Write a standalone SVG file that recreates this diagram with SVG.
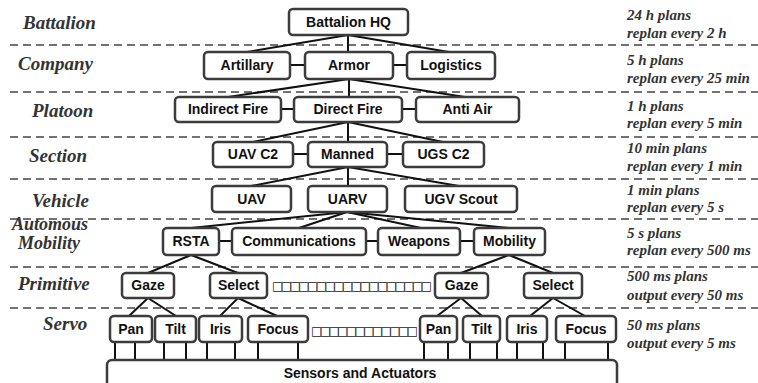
<svg xmlns="http://www.w3.org/2000/svg" width="758" height="383" viewBox="0 0 758 383">
<style>
.bg{fill:#fff}
.dash{stroke:#444;stroke-width:1.6;stroke-dasharray:8 5;fill:none}
.box rect{fill:#fff;stroke:#3c3c3c;stroke-width:2.5}
.box text{font-family:"Liberation Sans",Arial,sans-serif;font-weight:bold;font-size:14px;fill:#111;text-anchor:middle}
.conn line{stroke:#111;stroke-width:2}
.lvl{font-family:"Liberation Serif","Times New Roman",serif;font-weight:bold;font-style:italic;font-size:19px;fill:#333}
.rate{font-family:"Liberation Serif","Times New Roman",serif;font-weight:bold;font-style:italic;font-size:15px;fill:#333}
.dots{font-family:"DejaVu Sans",sans-serif;font-size:12px;fill:#222}
</style>
<rect class="bg" x="0" y="0" width="758" height="383"/>
<g id="dashes">
<line class="dash" x1="10" y1="45" x2="758" y2="45"/>
<line class="dash" x1="10" y1="92" x2="758" y2="92"/>
<line class="dash" x1="10" y1="137" x2="758" y2="137"/>
<line class="dash" x1="10" y1="179" x2="758" y2="179"/>
<line class="dash" x1="10" y1="219" x2="758" y2="219"/>
<line class="dash" x1="10" y1="267" x2="758" y2="267"/>
<line class="dash" x1="10" y1="308" x2="758" y2="308"/>
</g>
<g id="levels">
<text class="lvl" x="23" y="29">Battalion</text>
<text class="lvl" x="18" y="70">Company</text>
<text class="lvl" x="32" y="117">Platoon</text>
<text class="lvl" x="29" y="162">Section</text>
<text class="lvl" x="32" y="207">Vehicle</text>
<text class="lvl" x="12" y="230" style="font-size:18px">Automous</text>
<text class="lvl" x="18" y="249" style="font-size:18px">Mobility</text>
<text class="lvl" x="18" y="290">Primitive</text>
<text class="lvl" x="43" y="330">Servo</text>
</g>
<g id="rates">
<text class="rate" x="627" y="20">24 h plans</text>
<text class="rate" x="627" y="38">replan every 2 h</text>
<text class="rate" x="627" y="65">5 h plans</text>
<text class="rate" x="627" y="83">replan every 25 min</text>
<text class="rate" x="627" y="111">1 h plans</text>
<text class="rate" x="627" y="128">replan every 5 min</text>
<text class="rate" x="627" y="153">10 min plans</text>
<text class="rate" x="627" y="171">replan every 1 min</text>
<text class="rate" x="627" y="195">1 min plans</text>
<text class="rate" x="627" y="212">replan every 5 s</text>
<text class="rate" x="627" y="238">5 s plans</text>
<text class="rate" x="627" y="255">replan every 500 ms</text>
<text class="rate" x="627" y="281">500 ms plans</text>
<text class="rate" x="627" y="300">output every 50 ms</text>
<text class="rate" x="627" y="330">50 ms plans</text>
<text class="rate" x="627" y="348">output every 5 ms</text>
</g>
<g id="connectors" class="conn">
<line x1="348" y1="35" x2="247" y2="52"/>
<line x1="348" y1="35" x2="348" y2="52"/>
<line x1="348" y1="35" x2="449" y2="52"/>
<line x1="290" y1="65" x2="305" y2="65"/>
<line x1="393" y1="65" x2="407" y2="65"/>
<line x1="349" y1="79" x2="228" y2="97"/>
<line x1="349" y1="79" x2="349" y2="97"/>
<line x1="349" y1="79" x2="465" y2="97"/>
<line x1="281" y1="109" x2="294" y2="109"/>
<line x1="402" y1="109" x2="416" y2="109"/>
<line x1="348" y1="122" x2="253" y2="142"/>
<line x1="348" y1="122" x2="348" y2="142"/>
<line x1="348" y1="122" x2="443" y2="142"/>
<line x1="293" y1="154" x2="308" y2="154"/>
<line x1="387" y1="154" x2="403" y2="154"/>
<line x1="348" y1="167" x2="251" y2="186"/>
<line x1="348" y1="167" x2="348" y2="186"/>
<line x1="348" y1="167" x2="459" y2="186"/>
<line x1="347" y1="212" x2="191" y2="228"/>
<line x1="347" y1="212" x2="299" y2="228"/>
<line x1="347" y1="212" x2="421" y2="228"/>
<line x1="347" y1="212" x2="509" y2="228"/>
<line x1="219" y1="241" x2="232" y2="241"/>
<line x1="366" y1="241" x2="378" y2="241"/>
<line x1="460" y1="241" x2="474" y2="241"/>
<line x1="191" y1="255" x2="148" y2="273"/>
<line x1="191" y1="255" x2="238" y2="273"/>
<line x1="509" y1="255" x2="461" y2="273"/>
<line x1="509" y1="255" x2="553" y2="273"/>
<line x1="148" y1="298" x2="129" y2="316"/>
<line x1="148" y1="298" x2="176" y2="316"/>
<line x1="238" y1="298" x2="220" y2="316"/>
<line x1="238" y1="298" x2="277" y2="316"/>
<line x1="461" y1="298" x2="437" y2="316"/>
<line x1="461" y1="298" x2="482" y2="316"/>
<line x1="553" y1="298" x2="530" y2="316"/>
<line x1="553" y1="298" x2="585" y2="316"/>
<line x1="115" y1="342" x2="115" y2="360"/>
<line x1="135" y1="342" x2="135" y2="360"/>
<line x1="164" y1="342" x2="164" y2="360"/>
<line x1="186" y1="342" x2="186" y2="360"/>
<line x1="207" y1="342" x2="207" y2="360"/>
<line x1="235" y1="342" x2="235" y2="360"/>
<line x1="258" y1="342" x2="258" y2="360"/>
<line x1="298" y1="342" x2="298" y2="360"/>
<line x1="424" y1="342" x2="424" y2="360"/>
<line x1="448" y1="342" x2="448" y2="360"/>
<line x1="470" y1="342" x2="470" y2="360"/>
<line x1="497" y1="342" x2="497" y2="360"/>
<line x1="517" y1="342" x2="517" y2="360"/>
<line x1="543" y1="342" x2="543" y2="360"/>
<line x1="565" y1="342" x2="565" y2="360"/>
<line x1="608" y1="342" x2="608" y2="360"/>
</g>
<g id="hq" class="box"><rect x="289" y="9" width="119" height="26" rx="4"/><text x="348.5" y="27">Battalion HQ</text></g>
<g id="artillary" class="box"><rect x="204" y="52" width="86" height="27" rx="4"/><text x="247" y="70">Artillary</text></g>
<g id="armor" class="box"><rect x="305" y="52" width="88" height="27" rx="4"/><text x="349" y="70">Armor</text></g>
<g id="logistics" class="box"><rect x="407" y="52" width="88" height="27" rx="4"/><text x="451" y="70">Logistics</text></g>
<g id="indirect" class="box"><rect x="175" y="97" width="106" height="25" rx="4"/><text x="228" y="114">Indirect Fire</text></g>
<g id="direct" class="box"><rect x="294" y="97" width="108" height="25" rx="4"/><text x="348" y="114">Direct Fire</text></g>
<g id="antiair" class="box"><rect x="416" y="97" width="103" height="25" rx="4"/><text x="467.5" y="114">Anti Air</text></g>
<g id="uavc2" class="box"><rect x="213" y="142" width="80" height="25" rx="4"/><text x="253" y="159">UAV C2</text></g>
<g id="manned" class="box"><rect x="308" y="142" width="79" height="25" rx="4"/><text x="347.5" y="159">Manned</text></g>
<g id="ugsc2" class="box"><rect x="403" y="142" width="81" height="25" rx="4"/><text x="443.5" y="159">UGS C2</text></g>
<g id="uav" class="box"><rect x="212" y="186" width="79" height="26" rx="4"/><text x="251.5" y="204">UAV</text></g>
<g id="uarv" class="box"><rect x="308" y="186" width="79" height="26" rx="4"/><text x="347.5" y="204">UARV</text></g>
<g id="ugvscout" class="box"><rect x="405" y="186" width="112" height="26" rx="4"/><text x="461" y="204">UGV Scout</text></g>
<g id="rsta" class="box"><rect x="163" y="228" width="56" height="27" rx="4"/><text x="191" y="246">RSTA</text></g>
<g id="comms" class="box"><rect x="232" y="228" width="134" height="27" rx="4"/><text x="299" y="246">Communications</text></g>
<g id="weapons" class="box"><rect x="378" y="228" width="82" height="27" rx="4"/><text x="419" y="246">Weapons</text></g>
<g id="mobility" class="box"><rect x="474" y="228" width="71" height="27" rx="4"/><text x="509.5" y="246">Mobility</text></g>
<g id="gaze1" class="box"><rect x="122" y="273" width="52" height="25" rx="4"/><text x="148" y="290">Gaze</text></g>
<g id="select1" class="box"><rect x="210" y="273" width="57" height="25" rx="4"/><text x="238.5" y="290">Select</text></g>
<g id="gaze2" class="box"><rect x="435" y="273" width="53" height="25" rx="4"/><text x="461.5" y="290">Gaze</text></g>
<g id="select2" class="box"><rect x="524" y="273" width="58" height="25" rx="4"/><text x="553" y="290">Select</text></g>
<g id="pan1" class="box"><rect x="110" y="316" width="42" height="26" rx="4"/><text x="131" y="334">Pan</text></g>
<g id="tilt1" class="box"><rect x="155" y="316" width="41" height="26" rx="4"/><text x="175.5" y="334">Tilt</text></g>
<g id="iris1" class="box"><rect x="199" y="316" width="43" height="26" rx="4"/><text x="220.5" y="334">Iris</text></g>
<g id="focus1" class="box"><rect x="248" y="316" width="60" height="26" rx="4"/><text x="278" y="334">Focus</text></g>
<g id="pan2" class="box"><rect x="420" y="316" width="37" height="26" rx="4"/><text x="438.5" y="334">Pan</text></g>
<g id="tilt2" class="box"><rect x="463" y="316" width="37" height="26" rx="4"/><text x="481.5" y="334">Tilt</text></g>
<g id="iris2" class="box"><rect x="507" y="316" width="40" height="26" rx="4"/><text x="527" y="334">Iris</text></g>
<g id="focus2" class="box"><rect x="556" y="316" width="60" height="26" rx="4"/><text x="586" y="334">Focus</text></g>
<g id="sensors" class="box"><rect x="107" y="360" width="510" height="40" rx="5"/><text x="360" y="378">Sensors and Actuators</text></g>
<g id="ellipses">
<text class="dots" x="272" y="290" textLength="160" lengthAdjust="spacing">□□□□□□□□□□□□□□□□□□</text>
<text class="dots" x="311" y="335" textLength="107" lengthAdjust="spacing">□□□□□□□□□□□□</text>
</g>
</svg>
